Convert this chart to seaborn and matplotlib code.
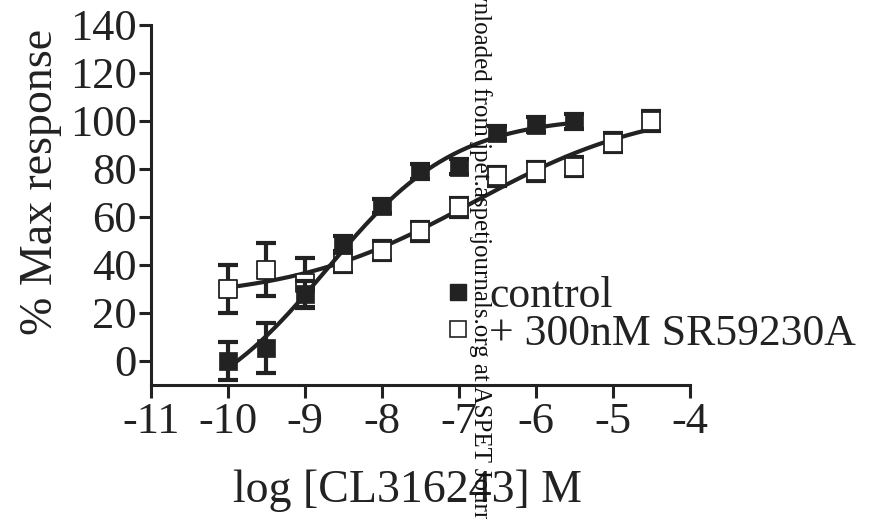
import numpy as np
import pandas as pd
import matplotlib
matplotlib.use("Agg")
import matplotlib.pyplot as plt
from matplotlib.lines import Line2D
import seaborn as sns

# ---------------- data ----------------
log_conc_control = [-10.0, -9.5, -9.0, -8.5, -8.0, -7.5, -7.0, -6.5, -6.0, -5.5]
resp_control = [0.0, 5.5, 28.0, 49.0, 64.5, 79.0, 81.0, 95.0, 98.5, 99.8]
err_control = [8.0, 10.3, 5.5, 3.0, 3.0, 3.0, 3.0, 3.0, 3.0, 3.0]

log_conc_sr = [-10.0, -9.5, -9.0, -8.5, -8.0, -7.5, -7.0, -6.5, -6.0, -5.5, -5.0, -4.5]
resp_sr = [30.0, 38.0, 32.5, 41.0, 46.0, 54.0, 64.0, 77.0, 79.0, 81.0, 91.0, 100.0]
err_sr = [10.0, 11.0, 10.5, 4.0, 4.0, 4.0, 4.0, 4.0, 4.0, 4.0, 4.0, 4.0]

series_labels = ["control", "+ 300nM SR59230A"]
x_ticks = [-11, -10, -9, -8, -7, -6, -5, -4]
y_ticks = [0, 20, 40, 60, 80, 100, 120, 140]
x_label = "log [CL316243] M"
y_label = "% Max response"
watermark = "Downloaded from jpet.aspetjournals.org at ASPET Journals on April 20, 2024"

# ---------------- four-parameter logistic fit (like the original software) ----------------
def fit_4pl(x, y):
    x = np.asarray(x, float)
    y = np.asarray(y, float)
    cs = np.arange(-11.0, -3.99, 0.01)
    hs = np.arange(0.2, 2.001, 0.005)
    C, H = np.meshgrid(cs, hs, indexing="ij")
    g = 1.0 / (1.0 + 10.0 ** ((C[..., None] - x) * H[..., None]))
    u = 1.0 - g
    a = (u * u).sum(-1); b = (u * g).sum(-1); d = (g * g).sum(-1)
    r1 = (u * y).sum(-1); r2 = (g * y).sum(-1)
    det = a * d - b * b
    det[np.abs(det) < 1e-12] = np.nan
    B = (d * r1 - b * r2) / det
    T = (a * r2 - b * r1) / det
    pred = B[..., None] * u + T[..., None] * g
    sse = ((pred - y) ** 2).sum(-1)
    i, j = np.unravel_index(np.nanargmin(sse), sse.shape)
    return B[i, j], T[i, j], C[i, j], H[i, j]

def curve(params, lo, hi):
    B, T, c, h = params
    xs = np.linspace(lo, hi, 300)
    return xs, B + (T - B) / (1.0 + 10.0 ** ((c - xs) * h))

# ---------------- style ----------------
sns.set_theme(style="ticks")
plt.rcParams["font.family"] = ["Liberation Serif", "DejaVu Serif"]
plt.rcParams["axes.unicode_minus"] = False

INK = "#222222"
FS_TICK = 32
FS_LABEL = 33
FS_LEG = 31.5

fig = plt.figure(figsize=(8.78, 5.19), dpi=100)
ax = fig.add_axes([151 / 878, 1 - 385 / 519, (690 - 151) / 878, (385 - 25) / 519])

df_c = pd.DataFrame({"x": log_conc_control, "y": resp_control, "e": err_control})
df_s = pd.DataFrame({"x": log_conc_sr, "y": resp_sr, "e": err_sr})

# fitted curves
xc, yc = curve(fit_4pl(log_conc_control, resp_control), min(log_conc_control), max(log_conc_control))
xs_, ys_ = curve(fit_4pl(log_conc_sr, resp_sr), min(log_conc_sr), max(log_conc_sr))
sns.lineplot(x=xs_, y=ys_, color=INK, lw=3.0, ax=ax, sort=False, zorder=2)
sns.lineplot(x=xc, y=yc, color=INK, lw=3.0, ax=ax, sort=False, zorder=4)

# error bars
ax.errorbar(df_s["x"], df_s["y"], yerr=df_s["e"], fmt="none", ecolor=INK,
            elinewidth=3.0, capsize=7, capthick=3.0, zorder=1.5)
ax.errorbar(df_c["x"], df_c["y"], yerr=df_c["e"], fmt="none", ecolor=INK,
            elinewidth=3.0, capsize=7, capthick=3.0, zorder=3.5)

# markers
sns.scatterplot(data=df_s, x="x", y="y", marker="s", s=175, color="white",
                edgecolor=INK, linewidth=1.3, ax=ax, zorder=3, legend=False)
sns.scatterplot(data=df_c, x="x", y="y", marker="s", s=180, color=INK,
                edgecolor=INK, linewidth=0.5, ax=ax, zorder=5, legend=False)

# axes
ax.set_xlim(-11, -4)
ax.set_ylim(-10, 140)
ax.set_xticks(x_ticks)
ax.set_xticklabels([str(t) for t in x_ticks])
ax.set_yticks(y_ticks)
ax.set_yticklabels([str(t) for t in y_ticks])
for side in ("top", "right"):
    ax.spines[side].set_visible(False)
for side in ("left", "bottom"):
    ax.spines[side].set_linewidth(2.2)
    ax.spines[side].set_color(INK)
ax.tick_params(axis="both", colors=INK, labelsize=FS_TICK, width=2.2, direction="out")
ax.tick_params(axis="x", length=9, pad=3)
ax.tick_params(axis="y", length=9, pad=1)
ax.set_facecolor("white")
ax.grid(False)

ax.set_xlabel(x_label, fontsize=FS_LABEL, color=INK)
ax.set_ylabel(y_label, fontsize=FS_LABEL, color=INK)
ax.xaxis.set_label_coords((408 - 151) / 539, -(469 - 385) / 360)
ax.yaxis.set_label_coords(-(151 - 62) / 539, (385 - 182) / 360)

# legend
handles = [
    Line2D([], [], marker="s", linestyle="none", markersize=11, markerfacecolor=INK,
           markeredgecolor=INK),
    Line2D([], [], marker="s", linestyle="none", markersize=11, markerfacecolor="white",
           markeredgecolor=INK, markeredgewidth=1.2),
]
leg = ax.legend(handles, series_labels, loc="center left",
                bbox_to_anchor=(449 / 878, 1 - 315 / 519), bbox_transform=fig.transFigure,
                frameon=False, fontsize=FS_LEG, handlelength=0.42, handletextpad=0.5,
                labelspacing=-0.06, borderpad=0, borderaxespad=0)
for t in leg.get_texts():
    t.set_color(INK)

# vertical watermark
fig.text(474 / 878, 1 + 47 / 519, watermark, rotation=-90, rotation_mode="anchor",
         ha="left", va="baseline", fontsize=18, color="#111111", zorder=20,
         family=["Liberation Serif", "DejaVu Serif"])

fig.savefig("out.png", dpi=100, facecolor="white")
